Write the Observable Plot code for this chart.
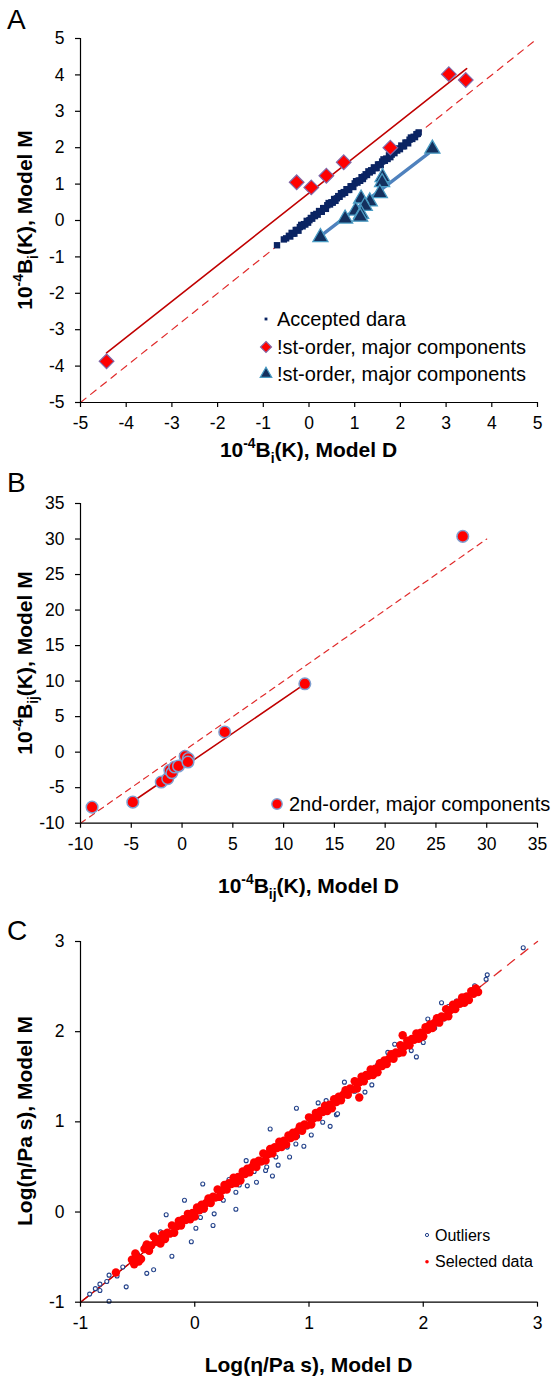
<!DOCTYPE html>
<html><head><meta charset="utf-8">
<script src="https://cdn.jsdelivr.net/npm/d3@7"></script>
<script src="https://cdn.jsdelivr.net/npm/@observablehq/plot@0.6"></script>
<style>
body{margin:0;background:#fff;}
#wrap{position:relative;width:560px;height:1378px;overflow:hidden;background:#fff;}
#wrap svg{position:absolute;left:0;}
</style></head><body><div id="wrap"></div>
<script>
// ---------- Panel A data ----------
const ticksA = [-5,-4,-3,-2,-1,0,1,2,3,4,5];
const identityA = [[-5,-5],[5,5]];
const fitA = [[-4.43,-3.64],[3.45,4.17]];
const fitTriA = [[0.25,-0.43],[2.62,1.85]];
const diamondsA = [[-4.43,-3.87],[-0.27,1.05],[0.05,0.91],[0.38,1.23],[0.76,1.60],[1.78,2.00],[3.06,4.02],[3.43,3.86]];
const trianglesA = [[2.70,1.97],[1.61,1.19],[1.60,1.05],[1.55,0.75],[1.33,0.52],[1.14,0.60],[1.22,0.40],[1.02,0.27],[1.14,0.18],[1.12,0.10],[0.79,0.05],[0.25,-0.46]];
const acceptedA = [[-0.70,-0.68],[-0.55,-0.52],[-0.50,-0.49],
[-0.44,-0.42],[-0.41,-0.44],[-0.38,-0.34],[-0.35,-0.36],[-0.32,-0.36],[-0.29,-0.26],[-0.26,-0.26],[-0.23,-0.28],[-0.20,-0.18],[-0.17,-0.12],
[-0.14,-0.16],[-0.11,-0.10],[-0.08,-0.11],[-0.05,-0.01],[-0.02,-0.06],[0.01,0.01],[0.04,0.07],[0.07,0.05],[0.10,0.15],[0.13,0.12],
[0.16,0.18],[0.19,0.16],[0.22,0.26],[0.25,0.24],[0.28,0.24],[0.31,0.34],[0.34,0.34],[0.37,0.32],[0.40,0.42],[0.43,0.48],
[0.46,0.44],[0.49,0.50],[0.52,0.49],[0.55,0.59],[0.58,0.54],[0.61,0.61],[0.64,0.67],[0.67,0.65],[0.70,0.75],[0.73,0.72],
[0.76,0.78],[0.79,0.76],[0.82,0.86],[0.85,0.84],[0.88,0.84],[0.91,0.94],[0.94,0.94],[0.97,0.92],[1.00,1.02],[1.03,1.08],
[1.06,1.04],[1.09,1.10],[1.12,1.09],[1.15,1.19],[1.18,1.14],[1.21,1.21],[1.24,1.27],[1.27,1.25],[1.30,1.35],[1.33,1.32],
[1.36,1.38],[1.39,1.36],[1.42,1.46],[1.45,1.44],[1.48,1.44],[1.51,1.54],[1.54,1.54],[1.57,1.52],[1.60,1.62],[1.63,1.68],
[1.66,1.64],[1.69,1.70],[1.72,1.69],[1.75,1.79],[1.78,1.74],[1.81,1.81],[1.84,1.87],[1.87,1.85],[1.90,1.95],[1.93,1.92],
[1.96,1.98],[1.99,1.96],[2.02,2.06],[2.05,2.04],[2.08,2.04],[2.11,2.14],[2.14,2.14],[2.17,2.12],[2.20,2.22],[2.23,2.28],
[2.26,2.24],[2.29,2.30],[2.32,2.29],[2.35,2.37],[2.38,2.38],[2.40,2.42]];
const legendA = ["Accepted dara","!st-order, major components","!st-order, major components"];

// ---------- Panel B data ----------
const ticksB = [-10,-5,0,5,10,15,20,25,30,35];
const identityB = [[-10,-10],[30,30]];
const fitB = [[-4.85,-6.95],[12.1,9.6]];
const circlesB = [[-8.86,-7.74],[-4.85,-7.04],[-2.05,-4.21],[-1.41,-3.73],[-1.20,-2.55],[-1.00,-2.90],[-0.72,-2.10],[-0.35,-1.95],[0.30,-0.58],[0.62,-0.90],[0.58,-1.39],[4.20,2.84],[12.09,9.62],[27.64,30.37]];
const legendB = ["2nd-order, major components"];

// ---------- Panel C data ----------
const ticksC = [-1,0,1,2,3];
const identityC = [[-1,-1],[3,3]];
const fitC = [[-1,-1],[2.5,2.5]];
const outliersC = [[-0.92,-0.91],[-0.87,-0.85],[-0.83,-0.80],[-0.83,-0.87],[-0.77,-0.77],[-0.75,-0.70],[-0.75,-0.99],[-0.68,-0.71],
[-0.63,-0.61],[-0.60,-0.83],[-0.50,-0.47],[-0.42,-0.68],[-0.36,-0.64],[-0.44,-0.38],[-0.39,-0.43],[-0.20,-0.49],[-0.25,-0.03],
[-0.09,0.13],[-0.03,-0.33],[0.01,-0.18],[0.07,0.31],[0.16,-0.15],[0.17,-0.02],[0.08,0.02],[0.21,0.15],[0.25,0.13],[0.36,0.03],
[0.36,0.22],[0.39,0.30],[0.46,0.29],[0.54,0.33],[0.62,0.46],[0.63,0.50],[0.68,0.40],[0.71,0.61],[0.73,0.52],[0.66,0.92],
[0.74,0.77],[0.81,0.72],[0.83,0.61],[0.885,0.755],[0.955,0.73],[1.02,0.855],[1.12,0.995],[1.185,0.95],[1.24,1.08],[0.89,1.15],
[1.08,1.21],[1.15,1.235],[1.25,1.09],[1.31,1.44],[1.49,1.33],[1.55,1.41],[1.31,1.35],[1.69,1.77],[1.895,1.79],[2.04,2.14],
[2.18,2.14],[2.29,2.34],[2.37,2.40],[2.45,2.51],[2.56,2.63],[2.55,2.58],[2.875,2.93],[1.75,1.86],[2.16,2.32],[1.94,1.72],
[2.00,1.88],[-0.30,-0.22],[0.05,-0.06],[0.30,0.36],[0.52,0.45],[0.90,0.84],[1.40,1.34],[1.60,1.63],[2.10,2.04],[2.22,2.28],[0.45,0.57]];
const selectedC = [[-0.69,-0.67],[-0.55,-0.53],[-0.53,-0.58],[-0.52,-0.46],[-0.51,-0.50],[-0.49,-0.55],[-0.47,-0.52],
[-0.44,-0.41],[-0.42,-0.36],[-0.40,-0.43],[-0.38,-0.37],[-0.36,-0.27],[-0.34,-0.33],[-0.32,-0.30],[-0.30,-0.35],
[-0.28,-0.25],[-0.26,-0.30],[-0.24,-0.23],[-0.22,-0.24],[-0.20,-0.15],[-0.18,-0.23],[-0.16,-0.16],[-0.14,-0.10],[-0.12,-0.15],[-0.10,-0.08],
[-0.08,-0.09],[-0.06,-0.02],[-0.04,-0.08],[-0.02,-0.01],[0.00,-0.05],[0.02,0.05],[0.04,0.02],[0.06,0.08],[0.08,0.04],[0.10,0.10],
[0.12,0.15],[0.14,0.10],[0.16,0.17],[0.18,0.16],[0.20,0.25],[0.22,0.17],[0.24,0.24],[0.26,0.30],[0.28,0.25],[0.30,0.32],
[0.32,0.31],[0.34,0.38],[0.36,0.32],[0.38,0.39],[0.40,0.35],[0.42,0.45],[0.44,0.42],[0.46,0.48],[0.48,0.44],[0.50,0.50],
[0.52,0.55],[0.54,0.50],[0.56,0.57],[0.58,0.56],[0.60,0.65],[0.62,0.57],[0.64,0.64],[0.66,0.70],[0.68,0.65],[0.70,0.72],
[0.72,0.71],[0.74,0.78],[0.76,0.72],[0.78,0.79],[0.80,0.75],[0.82,0.85],[0.84,0.82],[0.86,0.88],[0.88,0.84],[0.90,0.90],
[0.92,0.95],[0.94,0.90],[0.96,0.97],[0.98,0.96],[1.00,1.05],[1.02,0.97],[1.04,1.04],[1.06,1.10],[1.08,1.05],[1.10,1.12],
[1.12,1.11],[1.14,1.18],[1.16,1.12],[1.18,1.19],[1.20,1.15],[1.22,1.25],[1.24,1.22],[1.26,1.28],[1.28,1.24],[1.30,1.30],
[1.32,1.35],[1.34,1.30],[1.36,1.37],[1.38,1.36],[1.40,1.45],[1.42,1.37],[1.44,1.44],[1.46,1.50],[1.48,1.45],[1.50,1.52],
[1.52,1.51],[1.54,1.58],[1.56,1.52],[1.58,1.59],[1.60,1.55],[1.62,1.65],[1.64,1.62],[1.66,1.68],[1.68,1.64],[1.70,1.70],
[1.72,1.75],[1.74,1.70],[1.76,1.77],[1.78,1.76],[1.80,1.85],[1.82,1.77],[1.84,1.84],[1.86,1.90],[1.88,1.85],[1.90,1.92],
[1.92,1.91],[1.94,1.98],[1.96,1.92],[1.98,1.99],[2.00,1.95],[2.02,2.05],[2.04,2.02],[2.06,2.08],[2.08,2.04],[2.10,2.10],
[2.12,2.15],[2.14,2.10],[2.16,2.17],[2.18,2.16],[2.20,2.25],[2.22,2.17],[2.24,2.24],[2.26,2.30],[2.28,2.25],[2.30,2.32],
[2.32,2.31],[2.34,2.38],[2.36,2.32],[2.38,2.39],[2.40,2.35],[2.42,2.45],[2.44,2.42],[2.46,2.48],[2.48,2.44],
[1.82,1.96],[1.44,1.27]];
const legendC = ["Outliers","Selected data"];

// ---------- styling ----------
const FONT = "'Liberation Sans', Arial, Helvetica, sans-serif";
const RED_DASH = "#e02a2a", RED_FIT = "#c00000";
const px = d => d[0], py = d => d[1];

function panel({height, marginTop, marginBottom, ticks, marks}) {
  const dom = [ticks[0], ticks[ticks.length-1]];
  return Plot.plot({
    width: 560, height, marginLeft: 80, marginRight: 23, marginTop, marginBottom,
    style: {fontFamily: FONT, fontSize: "17.5px", color: "black", background: "white", overflow: "visible"},
    x: {domain: dom}, y: {domain: dom},
    marks: [
      ...marks,
      Plot.ruleX([dom[0]], {stroke: "black", strokeWidth: 1.2}),
      Plot.ruleY([dom[0]], {stroke: "black", strokeWidth: 1.2}),
      Plot.axisX({ticks, tickSize: 5, tickPadding: 9, label: null, tickFormat: d => String(d), strokeWidth: 1.2}),
      Plot.axisY({ticks, tickSize: 5, tickPadding: 11, label: null, tickFormat: d => String(d), strokeWidth: 1.2})
    ]
  });
}

const svgA = panel({height: 470, marginTop: 38, marginBottom: 68, ticks: ticksA, marks: [
  Plot.line(identityA, {x: px, y: py, stroke: RED_DASH, strokeWidth: 1.2, strokeDasharray: "7,6"}),
  Plot.line(fitA, {x: px, y: py, stroke: RED_FIT, strokeWidth: 1.6}),
  Plot.line(fitTriA, {x: px, y: py, stroke: "#4f81bd", strokeWidth: 3.3}),
  Plot.dot(acceptedA, {x: px, y: py, symbol: "square", r: 3.6, fill: "#0a2463"}),
  Plot.dot(diamondsA, {x: px, y: py, symbol: "diamond2", r: 6.6, fill: "#ff0000", stroke: "#8068a8", strokeWidth: 1.2}),
  Plot.dot(trianglesA, {x: px, y: py, symbol: "triangle", r: 5.6, fill: "#14305e", stroke: "#4a9cc4", strokeWidth: 1.3})
]});

const svgB = panel({height: 435, marginTop: 33, marginBottom: 82.3, ticks: ticksB, marks: [
  Plot.line(identityB, {x: px, y: py, stroke: RED_DASH, strokeWidth: 1.2, strokeDasharray: "6,5"}),
  Plot.line(fitB, {x: px, y: py, stroke: RED_FIT, strokeWidth: 1.6}),
  Plot.dot(circlesB, {x: px, y: py, r: 5.8, fill: "#ff0000", stroke: "#7f9fd0", strokeWidth: 1.5})
]});

const svgC = panel({height: 473, marginTop: 36, marginBottom: 76.3, ticks: ticksC, marks: [
  Plot.line(identityC, {x: px, y: py, stroke: RED_DASH, strokeWidth: 1.3, strokeDasharray: "9,8"}),
  Plot.line(fitC, {x: px, y: py, stroke: RED_FIT, strokeWidth: 1.4}),
  Plot.dot(outliersC, {x: px, y: py, r: 2, fill: "white", stroke: "#23428a", strokeWidth: 1.1}),
  Plot.dot(selectedC, {x: px, y: py, r: 4.2, fill: "#ff0000"})
]});

const wrap = document.getElementById("wrap");
[[svgA, 0], [svgB, 470], [svgC, 905]].forEach(([s, top]) => { s.style.top = top + "px"; wrap.appendChild(s); });

// ---------- annotations (titles, panel letters, legends) ----------
function richText(g, parts, size) {
  let shift = 0;
  parts.forEach(([t, k]) => {
    const ts = g.append("tspan").text(t);
    const target = k === "sup" ? -0.42 * size : k === "sub" ? 0.3 * size : 0;
    ts.attr("dy", target - shift);
    if (k !== "n") ts.attr("font-size", size * 0.66);
    shift = target;
  });
}
function addTitles(svg, {letter, letterY, xParts, xBase, yParts, yCenter}) {
  const s = d3.select(svg);
  s.append("text").attr("x", 7).attr("y", letterY).attr("text-anchor", "start").attr("font-size", 28)
    .attr("font-family", FONT).attr("fill", "black").text(letter);
  const tx = s.append("text").attr("x", 308.5).attr("y", xBase).attr("text-anchor", "middle")
    .attr("font-size", 21).attr("font-weight", "bold").attr("font-family", FONT).attr("fill", "black");
  richText(tx, xParts, 21);
  const ty = s.append("text").attr("transform", `translate(32,${yCenter}) rotate(-90)`).attr("text-anchor", "middle")
    .attr("font-size", 21).attr("font-weight", "bold").attr("font-family", FONT).attr("fill", "black");
  richText(ty, yParts, 21);
}
addTitles(svgA, {letter: "A", letterY: 29, xBase: 457,
  xParts: [["10","n"],["-4","sup"],["B","n"],["i","sub"],["(K), Model D","n"]],
  yParts: [["10","n"],["-4","sup"],["B","n"],["i","sub"],["(K), Model M","n"]], yCenter: 220});
addTitles(svgB, {letter: "B", letterY: 22, xBase: 423,
  xParts: [["10","n"],["-4","sup"],["B","n"],["ij","sub"],["(K), Model D","n"]],
  yParts: [["10","n"],["-4","sup"],["B","n"],["ij","sub"],["(K), Model M","n"]], yCenter: 193});
addTitles(svgC, {letter: "C", letterY: 35, xBase: 467,
  xParts: [["Log(η/Pa s), Model D","n"]],
  yParts: [["Log(η/Pa s), Model M","n"]], yCenter: 216});

function sym(type, r) { return d3.symbol(type, Math.PI * r * r)(); }
function legend(svg, items, x, tx, size) {
  const s = d3.select(svg);
  items.forEach(it => {
    s.append("path").attr("d", it.d).attr("transform", `translate(${x},${it.y})`)
      .attr("fill", it.fill).attr("stroke", it.stroke || "none").attr("stroke-width", it.sw || 0);
    s.append("text").attr("x", tx).attr("y", it.y).attr("dy", "0.36em").attr("text-anchor", "start").attr("font-size", size)
      .attr("font-family", FONT).attr("fill", "black").text(it.label);
  });
}
legend(svgA, [
  {label: legendA[0], y: 319, d: sym(d3.symbolSquare, 1.6), fill: "#0a2463"},
  {label: legendA[1], y: 347, d: sym(d3.symbolDiamond2, 5), fill: "#ff0000", stroke: "#8068a8", sw: 1.1},
  {label: legendA[2], y: 374, d: sym(d3.symbolTriangle, 4.3), fill: "#14305e", stroke: "#4a9cc4", sw: 1.2}
], 266, 277, 20);
legend(svgB, [
  {label: legendB[0], y: 334, d: sym(d3.symbolCircle, 5.2), fill: "#ff0000", stroke: "#7f9fd0", sw: 1.4}
], 277, 289, 20);
legend(svgC, [
  {label: legendC[0], y: 330, d: sym(d3.symbolCircle, 1.6), fill: "white", stroke: "#23428a", sw: 1},
  {label: legendC[1], y: 356.7, d: sym(d3.symbolCircle, 1.8), fill: "#ff0000"}
], 427, 435, 16);
</script></body></html>
